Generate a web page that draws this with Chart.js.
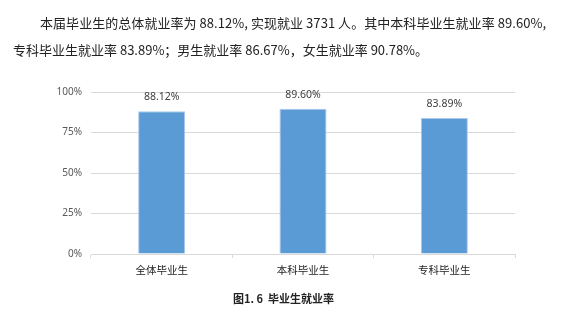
<!DOCTYPE html>
<html>
<head>
<meta charset="utf-8">
<script src="https://cdn.jsdelivr.net/npm/chart.js@4/dist/chart.umd.min.js"></script>
<style>
  html, body { margin: 0; padding: 0; background: #fff; }
  body { width: 571px; height: 313px; position: relative; overflow: hidden; font-family: "Noto Sans CJK SC", "Noto Sans", sans-serif; }
  .p { position: absolute; font-size: 13px; color: #222; white-space: nowrap; line-height: 1; }
  #l1 { left: 40px; top: 16px; letter-spacing: 0.05px; }
  #l2 { left: 13px; top: 43px; }
  #cap { position: absolute; left: 233px; top: 293px; font-size: 11px; font-weight: bold; color: #222; white-space: nowrap; line-height: 1; }
  #wrap { position: absolute; left: 0; top: 0; width: 571px; height: 313px; }
</style>
</head>
<body>
<div id="wrap"><canvas id="c" width="571" height="313"></canvas></div>
<div class="p" id="l1">本届毕业生的总体就业率为 88.12%, 实现就业 3731 人。其中本科毕业生就业率 89.60%,</div>
<div class="p" id="l2">专科毕业生就业率 83.89%；男生就业率 86.67%，女生就业率 90.78%。</div>
<div id="cap">图1. 6&nbsp;&nbsp;毕业生就业率</div>
<script>
const categories = ["全体毕业生", "本科毕业生", "专科毕业生"];
const rates = [88.12, 89.60, 83.89];
const yTicks = [0, 25, 50, 75, 100];

const valueLabels = {
  id: "valueLabels",
  afterDatasetsDraw(chart) {
    const ctx = chart.ctx;
    const meta = chart.getDatasetMeta(0);
    ctx.save();
    ctx.font = "10.5px 'Noto Sans', 'Noto Sans CJK SC', sans-serif";
    ctx.fillStyle = "#404040";
    ctx.textAlign = "center";
    ctx.textBaseline = "bottom";
    meta.data.forEach((el, i) => {
      ctx.fillText(rates[i].toFixed(2) + "%", el.x, el.y - 9);
    });
    ctx.restore();
  }
};

new Chart(document.getElementById("c"), {
  type: "bar",
  data: {
    labels: categories,
    datasets: [{
      data: rates,
      backgroundColor: "#5B9BD5",
      borderColor: "#A9C8EA",
      borderWidth: 1,
      categoryPercentage: 1,
      barPercentage: 0.333
    }]
  },
  options: {
    responsive: false,
    animation: false,
    devicePixelRatio: 1,
    layout: { padding: { left: 51, right: 56, top: 92, bottom: 29 } },
    plugins: { legend: { display: false }, tooltip: { enabled: false } },
    scales: {
      x: {
        grid: { display: true, drawOnChartArea: false, drawTicks: true, tickLength: 4, color: "#D9D9D9" },
        border: { display: true, color: "#D9D9D9" },
        ticks: { color: "#222", font: { size: 10.5, family: "'Noto Sans CJK SC', sans-serif" }, padding: 6 },
        afterFit(s) { s.height = 30; }
      },
      y: {
        min: 0, max: 100,
        afterBuildTicks(s) { s.ticks = yTicks.map(v => ({ value: v })); },
        grid: { color: "#D9D9D9", drawTicks: false },
        border: { display: false },
        ticks: { color: "#595959", font: { size: 10, family: "'Noto Sans', sans-serif" }, padding: 9, callback: v => v + "%" },
        afterFit(s) { s.width = 40; }
      }
    }
  },
  plugins: [valueLabels]
});
</script>
</body>
</html>
